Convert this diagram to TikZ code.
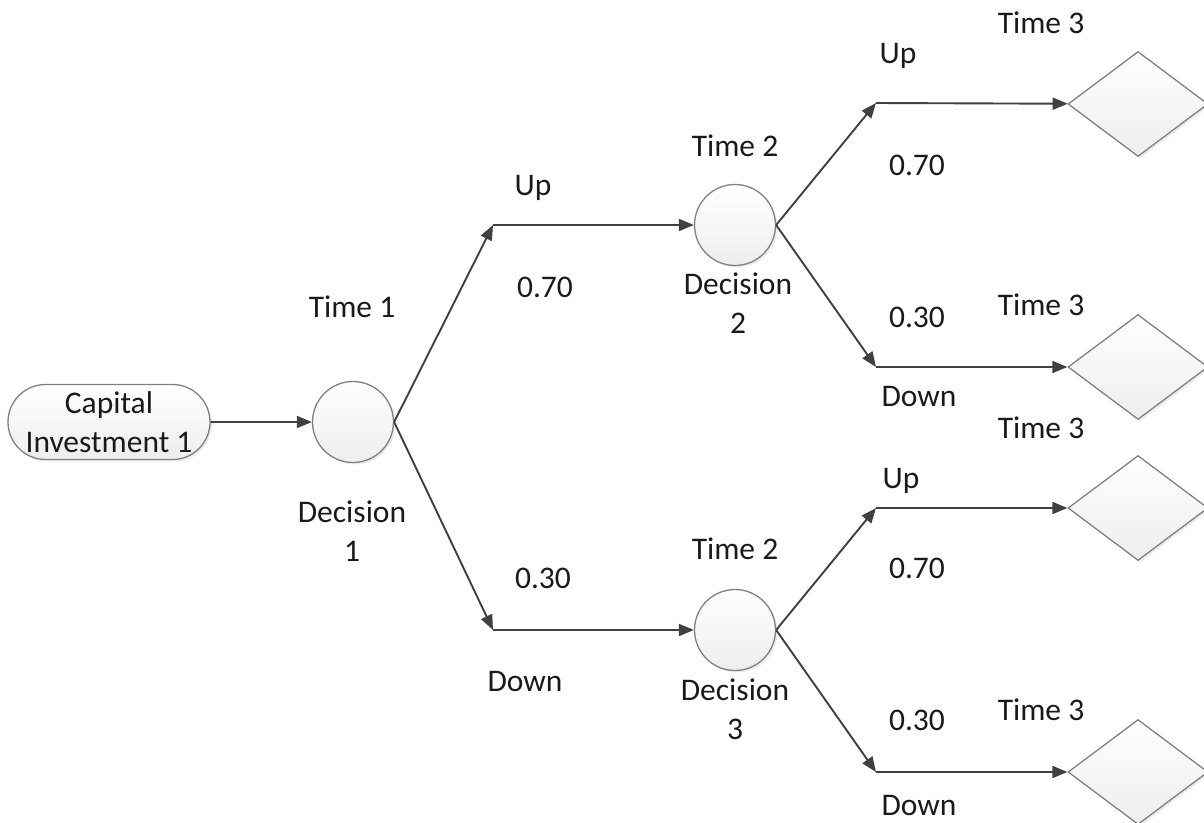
\documentclass[tikz,border=0pt]{standalone}
\usepackage{fontspec}
\setmainfont{Carlito}
\usetikzlibrary{shapes.geometric,shapes.misc,arrows.meta,shadows}
\definecolor{linegray}{HTML}{404040}
\definecolor{edgegray}{HTML}{808080}
\definecolor{textgray}{HTML}{1A1A1A}
\tikzset{
  shapebox/.style={draw=edgegray, line width=1.3pt, top color=white, bottom color=gray!14,
    drop shadow={shadow xshift=2pt, shadow yshift=-2pt, opacity=0.15}},
  terminal/.style={shapebox, rounded rectangle, minimum width=202pt, minimum height=75pt,
    inner sep=0pt, align=center, text=textgray},
  chance/.style={shapebox, circle, minimum size=81pt, inner sep=0pt},
  endnode/.style={shapebox, diamond, minimum width=140pt, minimum height=105pt, inner sep=0pt},
  flow/.style={draw=linegray, line width=1.9pt, -{Triangle[length=15pt,width=12pt]}},
  lbl/.style={text=textgray, align=center, inner sep=0pt}
}
\begin{document}
\begin{tikzpicture}[x=1pt, y=-1pt, font=\fontsize{31.5}{39}\selectfont]
\useasboundingbox (0,0) rectangle (1204,822);

% main nodes
\node[terminal] (start) at (109,422) {Capital\\Investment 1};
\node[chance] (c1) at (353,422) {};
\node[chance] (c2) at (735,225) {};
\node[chance] (c3) at (735,630) {};
\node[endnode] (d1) at (1138,104) {};
\node[endnode] (d2) at (1138,367) {};
\node[endnode] (d3) at (1138,508) {};
\node[endnode] (d4) at (1138,772) {};

% bend points of the branches
\coordinate (j1) at (493,225);
\coordinate (j2) at (493,630);
\coordinate (k1) at (876,103);
\coordinate (k2) at (876,367);
\coordinate (k3) at (876,508);
\coordinate (k4) at (876,772);

% connectors
\draw[flow] (start) -- (c1);
\draw[flow] (c1.east) -- (j1);
\draw[flow] (j1) -- (c2);
\draw[flow] (c1.east) -- (j2);
\draw[flow] (j2) -- (c3);
\draw[flow] (c2.east) -- (k1);
\draw[flow] (k1) -- (d1);
\draw[flow] (c2.east) -- (k2);
\draw[flow] (k2) -- (d2);
\draw[flow] (c3.east) -- (k3);
\draw[flow] (k3) -- (d3);
\draw[flow] (c3.east) -- (k4);
\draw[flow] (k4) -- (d4);

% labels: first stage
\node[lbl] (t1) at (352,307) {Time 1};
\node[lbl] (dc1) at (352,531) {Decision\\1};
\node[lbl] (u1) at (533,188) {Up};
\node[lbl] (p1) at (545,287) {0.70};
\node[lbl] (p2) at (543,578) {0.30};
\node[lbl] (w1) at (525,681) {Down};

% labels: second stage
\node[lbl] (t2a) at (735,146) {Time 2};
\node[lbl] (dc2) at (738,303) {Decision\\2};
\node[lbl] (t2b) at (735,549) {Time 2};
\node[lbl] (dc3) at (735,709) {Decision\\3};

% labels: third stage, upper
\node[lbl] (u2) at (898,56) {Up};
\node[lbl] (p3) at (917,165) {0.70};
\node[lbl] (t3a) at (1041,23) {Time 3};
\node[lbl] (p4) at (917,317) {0.30};
\node[lbl] (t3b) at (1041,305) {Time 3};
\node[lbl] (w2) at (919,396) {Down};

% labels: third stage, lower
\node[lbl] (t3c) at (1041,428) {Time 3};
\node[lbl] (u3) at (901,481) {Up};
\node[lbl] (p5) at (917,568) {0.70};
\node[lbl] (p6) at (917,720) {0.30};
\node[lbl] (t3d) at (1041,710) {Time 3};
\node[lbl] (w3) at (919,805) {Down};
\end{tikzpicture}
\end{document}
